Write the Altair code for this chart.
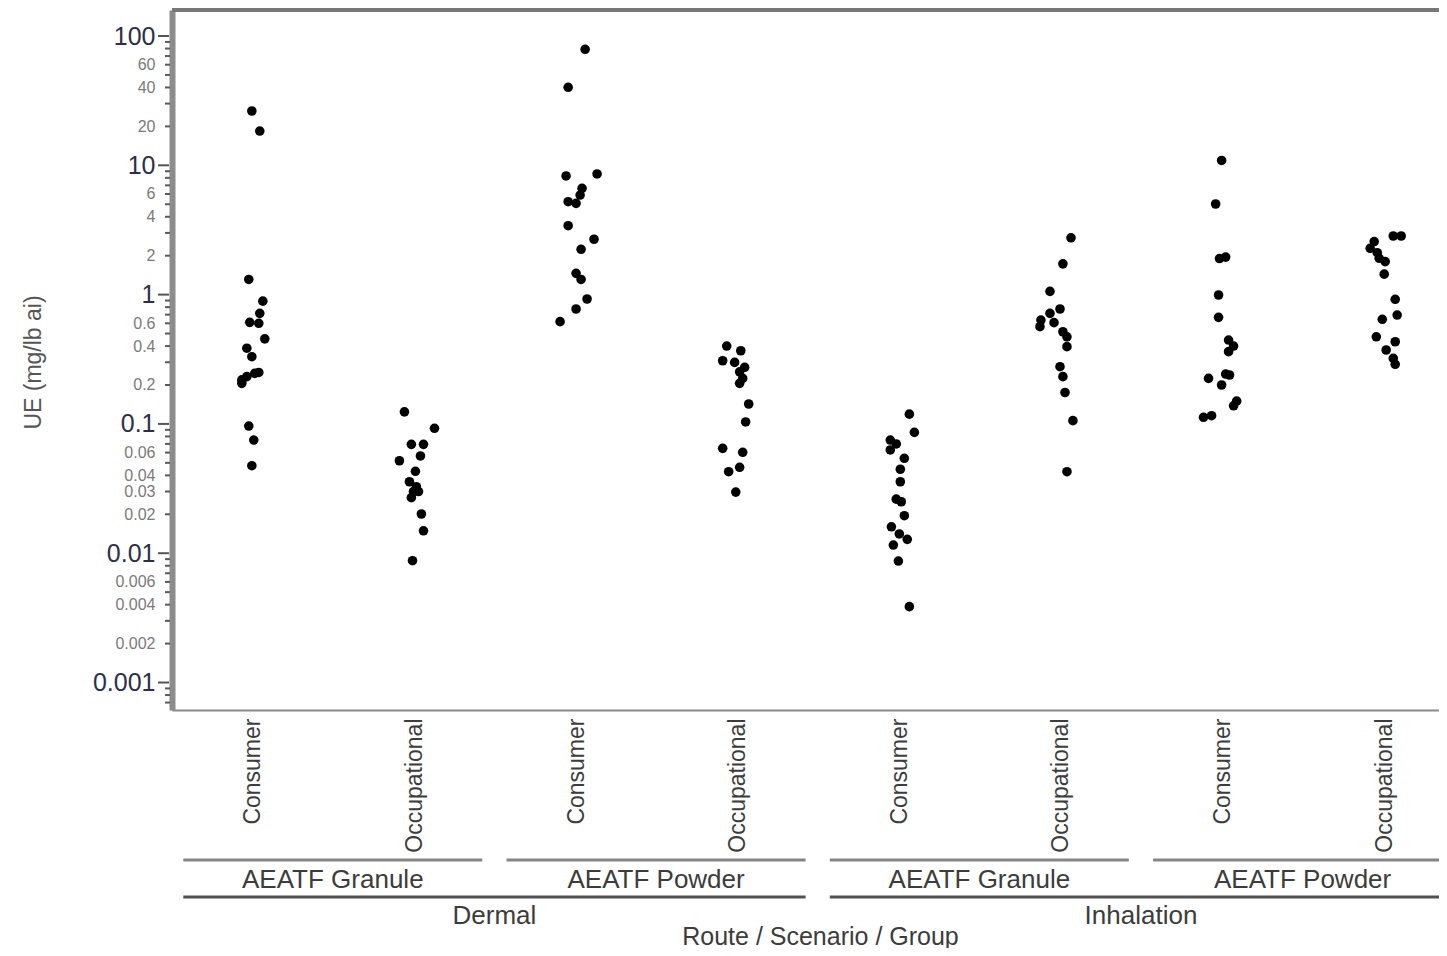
import altair as alt
import pandas as pd

# ---------------- data ----------------
route_names = ["Dermal", "Inhalation"]
route_start = [0, 4]
route_end = [4, 8]

scenario_names = ["AEATF Granule", "AEATF Powder", "AEATF Granule", "AEATF Powder"]
scenario_start = [0, 2, 4, 6]
scenario_end = [2, 4, 6, 8]

group_names = ["Consumer", "Occupational", "Consumer", "Occupational",
               "Consumer", "Occupational", "Consumer", "Occupational"]

# UE (mg/lb ai) for each column, with the horizontal jitter (fraction of a column)
ue_derm_gran_cons = [26.3, 18.4, 1.31, 0.89, 0.716, 0.61, 0.60, 0.455, 0.385, 0.331,
                     0.250, 0.246, 0.232, 0.219, 0.206, 0.0963, 0.075, 0.0475]
jit_derm_gran_cons = [-0.006, 0.043, -0.025, 0.062, 0.043, -0.019, 0.037, 0.074, -0.037, -0.006,
                      0.037, 0.012, -0.037, -0.068, -0.068, -0.025, 0.006, -0.006]

ue_derm_gran_occ = [0.124, 0.0925, 0.0695, 0.0695, 0.0565, 0.0519, 0.043, 0.0357, 0.0327,
                    0.030, 0.030, 0.0269, 0.0201, 0.0149, 0.00875]
jit_derm_gran_occ = [-0.062, 0.124, -0.019, 0.056, 0.037, -0.093, 0.006, -0.031, 0.012,
                     -0.006, 0.025, -0.019, 0.043, 0.056, -0.012]

ue_derm_pow_cons = [78.9, 40.1, 8.27, 8.57, 6.64, 5.89, 5.23, 5.08, 3.41, 2.68, 2.24,
                    1.46, 1.31, 0.925, 0.774, 0.618]
jit_derm_pow_cons = [0.056, -0.049, -0.062, 0.130, 0.037, 0.025, -0.049, 0.0, -0.049, 0.111, 0.031,
                     0.0, 0.031, 0.068, 0.0, -0.099]

ue_derm_pow_occ = [0.400, 0.368, 0.308, 0.299, 0.274, 0.253, 0.225, 0.206, 0.1426, 0.1035,
                   0.0647, 0.0603, 0.0462, 0.0427, 0.0297]
jit_derm_pow_occ = [-0.068, 0.019, -0.093, -0.019, 0.043, 0.012, 0.031, 0.012, 0.068, 0.049,
                    -0.093, 0.031, 0.012, -0.056, -0.012]

ue_inh_gran_cons = [0.119, 0.086, 0.075, 0.070, 0.0629, 0.0542, 0.0446, 0.0357, 0.0262, 0.025,
                    0.0195, 0.016, 0.0141, 0.0128, 0.01157, 0.0087, 0.00386]
jit_inh_gran_cons = [0.062, 0.093, -0.056, -0.019, -0.056, 0.031, 0.006, 0.006, -0.019, 0.012,
                     0.031, -0.049, 0.0, 0.049, -0.037, -0.006, 0.062]

ue_inh_gran_occ = [2.75, 1.73, 1.06, 0.774, 0.716, 0.636, 0.607, 0.565, 0.516, 0.472, 0.396,
                   0.277, 0.232, 0.175, 0.106, 0.0427]
jit_inh_gran_occ = [0.062, 0.012, -0.068, -0.006, -0.068, -0.124, -0.043, -0.130, 0.012, 0.037, 0.037,
                    -0.006, 0.012, 0.025, 0.074, 0.037]

ue_inh_pow_cons = [10.9, 5.02, 1.95, 1.90, 0.993, 0.667, 0.445, 0.40, 0.362, 0.243, 0.239,
                   0.225, 0.20, 0.15, 0.138, 0.1157, 0.1125]
jit_inh_pow_cons = [-0.006, -0.043, 0.019, -0.019, -0.025, -0.025, 0.037, 0.068, 0.037, 0.019, 0.043,
                    -0.087, -0.006, 0.087, 0.068, -0.068, -0.118]

ue_inh_pow_occ = [2.84, 2.84, 2.57, 2.28, 2.11, 1.91, 1.80, 1.44, 0.920, 0.695, 0.644,
                  0.472, 0.432, 0.373, 0.321, 0.289]
jit_inh_pow_occ = [0.056, 0.105, -0.062, -0.087, -0.043, -0.031, 0.006, 0.0, 0.068, 0.080, -0.012,
                   -0.049, 0.068, 0.012, 0.056, 0.068]

# y axis ticks and labels
y_major = [100, 10, 1, 0.1, 0.01, 0.001]
y_minor_labeled = [60, 40, 20, 6, 4, 2, 0.6, 0.4, 0.2, 0.06, 0.04, 0.03, 0.02,
                   0.006, 0.004, 0.002]
y_minor_ticks = [90, 80, 70, 60, 50, 40, 30, 20,
                 9, 8, 7, 6, 5, 4, 3, 2,
                 0.9, 0.8, 0.7, 0.6, 0.5, 0.4, 0.3, 0.2,
                 0.09, 0.08, 0.07, 0.06, 0.05, 0.04, 0.03, 0.02,
                 0.009, 0.008, 0.007, 0.006, 0.005, 0.004, 0.003, 0.002,
                 0.0009, 0.0008, 0.0007]

# ---------------- tables ----------------
columns = [
    (ue_derm_gran_cons, jit_derm_gran_cons),
    (ue_derm_gran_occ, jit_derm_gran_occ),
    (ue_derm_pow_cons, jit_derm_pow_cons),
    (ue_derm_pow_occ, jit_derm_pow_occ),
    (ue_inh_gran_cons, jit_inh_gran_cons),
    (ue_inh_gran_occ, jit_inh_gran_occ),
    (ue_inh_pow_cons, jit_inh_pow_cons),
    (ue_inh_pow_occ, jit_inh_pow_occ),
]
rows = []
for i, (vals, jits) in enumerate(columns):
    for v, j in zip(vals, jits):
        rows.append({"col": i, "x": i + 0.5 + j, "ue": v})
pts = pd.DataFrame(rows)

scen_df = pd.DataFrame({"label": scenario_names, "start": scenario_start, "end": scenario_end})
route_df = pd.DataFrame({"label": route_names, "start": route_start, "end": route_end})

# ---------------- layout ----------------
W = 1267
H = 700
COL_PX = 161.63
x_scale = alt.Scale(domain=[0, W / COL_PX], nice=False, zero=False)
y_scale = alt.Scale(type="log", domain=[0.000613, 158.9], nice=False)

FONT = "Liberation Sans"
TXT = "#3c3c3c"

major_test = "indexof([" + ",".join(repr(v) for v in y_major) + "], datum.value) >= 0"
x_label_expr = "[" + ",".join("'" + g + "'" for g in group_names) + "][floor(datum.value)]"

x_axis = alt.Axis(
    values=[i + 0.5 for i in range(len(group_names))],
    labelExpr=x_label_expr,
    labelAngle=270, labelAlign="right", labelBaseline="middle",
    labelFontSize=23, labelColor=TXT, labelPadding=8, labelFont=FONT,
    labelFlush=False, labelOverlap=False, labelBound=False,
    ticks=False, grid=False, domainColor="#8a8a8a", domainWidth=2,
    title="Route / Scenario / Group", titleFontSize=25, titleColor=TXT,
    titleFont=FONT, titleFontWeight="normal",
    titleX=648, titleY=226, titleBaseline="middle", titleAlign="center",
)

y_axis = alt.Axis(
    values=y_major + y_minor_labeled,
    labelExpr="format(datum.value, '~g')",
    labelFontSize={"condition": {"test": major_test, "value": 25}, "value": 16},
    labelColor={"condition": {"test": major_test, "value": "#2e2e48"}, "value": "#7a7a7a"},
    labelFont=FONT, labelAlign="right", labelBaseline="middle",
    labelPadding=17, labelOverlap=False, labelFlush=False, labelBound=False,
    ticks=False, grid=False, domainColor="#8c8c8c", domainWidth=6,
    title="UE (mg/lb ai)", titleFontSize=23, titleColor="#555555",
    titleFont=FONT, titleFontWeight="normal",
    titleX=-139, titleY=352, titleAngle=270,
    titleBaseline="middle", titleAlign="center",
)

points = alt.Chart(pts).mark_circle(size=92, color="black", opacity=1).encode(
    x=alt.X("x:Q", scale=x_scale, axis=x_axis),
    y=alt.Y("ue:Q", scale=y_scale, axis=y_axis),
)

major_ticks = alt.Chart(pd.DataFrame({"ue": y_major})).mark_rule(
    color="#555555", strokeWidth=2).encode(
    y=alt.Y("ue:Q", scale=y_scale, axis=y_axis),
    x=alt.value(-14), x2=alt.value(-3))

minor_ticks = alt.Chart(pd.DataFrame({"ue": y_minor_ticks})).mark_rule(
    color="#5a5a5a", strokeWidth=2).encode(
    y=alt.Y("ue:Q", scale=y_scale, axis=y_axis),
    x=alt.value(-7), x2=alt.value(-2))

top_border = alt.Chart(pd.DataFrame({"a": [0]})).mark_rule(
    color="#777777", strokeWidth=4).encode(
    x=alt.value(0), x2=alt.value(W), y=alt.value(0))

scen_rule = alt.Chart(scen_df).transform_calculate(
    x="datum.start + 0.07", x1="datum.end - 0.08").mark_rule(
    color="#858585", strokeWidth=3).encode(
    x=alt.X("x:Q", scale=x_scale, axis=x_axis), x2="x1:Q", y=alt.value(850))

scen_text = alt.Chart(scen_df).transform_calculate(
    x="(datum.start + datum.end) / 2 - 0.005").mark_text(
    fontSize=26, color=TXT, font=FONT, baseline="middle", align="center").encode(
    x=alt.X("x:Q", scale=x_scale, axis=x_axis), y=alt.value(870), text="label:N")

route_rule = alt.Chart(route_df).transform_calculate(
    x="datum.start + 0.07", x1="datum.end - 0.08").mark_rule(
    color="#505050", strokeWidth=3).encode(
    x=alt.X("x:Q", scale=x_scale, axis=x_axis), x2="x1:Q", y=alt.value(887))

route_text = alt.Chart(route_df).transform_calculate(
    x="(datum.start + datum.end) / 2 - 0.005").mark_text(
    fontSize=26, color=TXT, font=FONT, baseline="middle", align="center").encode(
    x=alt.X("x:Q", scale=x_scale, axis=x_axis), y=alt.value(906), text="label:N")

chart = alt.layer(
    top_border, major_ticks, minor_ticks, points,
    scen_rule, scen_text, route_rule, route_text,
).properties(
    width=W, height=H,
    padding={"left": 164, "top": 2, "right": 0, "bottom": 238},
    autosize=alt.AutoSizeParams(type="none"),
    background="white",
).configure_view(stroke=None).configure(font=FONT)

chart.save("out.html", embed_options={"renderer": "svg", "actions": False})
